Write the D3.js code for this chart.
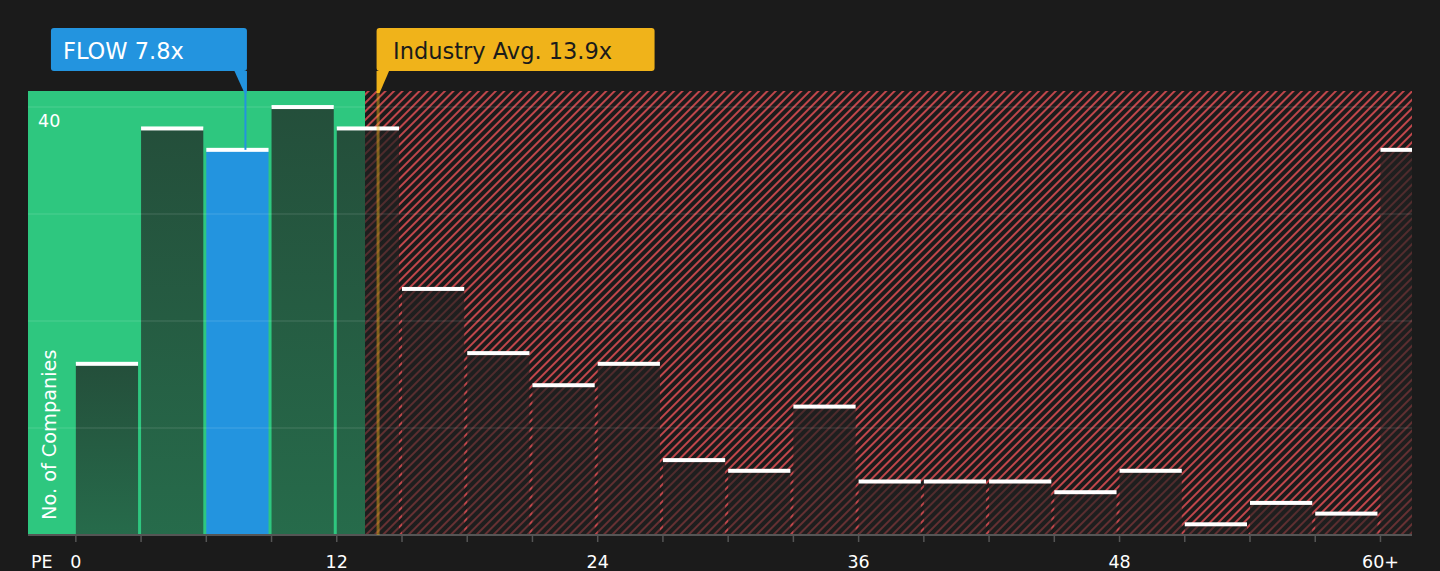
<!DOCTYPE html>
<html>
  <head>
    <script src="https://cdnjs.cloudflare.com/ajax/libs/d3/7.8.5/d3.min.js"></script>
    <style>
      html, body { margin: 0; padding: 0; background: #1b1b1b; }
      svg text { font-family: "DejaVu Sans", sans-serif; }
    </style>
  </head>
  <body>
    <div id="vis"></div>
    <script type="text/javascript">

        // PE histogram, bins of 3x
        const binStarts = [0, 3, 6, 9, 12, 15, 18, 21, 24, 27, 30, 33, 36, 39, 42, 45, 48, 51, 54, 57, 60];
        const counts    = [16, 38, 36, 40, 38, 23, 17, 14, 16, 7, 6, 12, 5, 5, 5, 4, 6, 1, 3, 2, 36];
        const tickValues = [0, 12, 24, 36, 48, 60];
        const tickLabels = ["0", "12", "24", "36", "48", "60+"];
        const gridValues = [10, 20, 30, 40];

        const companyPE = 7.8;
        const industryPE = 13.9;
        const fairLimit = 13.3;   // end of the green zone
        const binWidth = 3;

        const width = 1440, height = 571;
        const plot = {left: 28, right: 1412, top: 91, bottom: 535};

        const svg = d3.select("#vis")
            .append("svg")
            .attr("width", width)
            .attr("height", height)
            .style("display", "block");

        const x = d3.scaleLinear().domain([-2.2, 61.45]).range([plot.left, plot.right]);
        const y = d3.scaleLinear().domain([0, 41.5]).range([plot.bottom, plot.top]);

        const defs = svg.append("defs");

        defs.append("clipPath").attr("id", "plotClip")
            .append("rect")
            .attr("x", plot.left).attr("y", plot.top - 10)
            .attr("width", plot.right - plot.left)
            .attr("height", plot.bottom - plot.top + 10);

        const hatch = defs.append("pattern")
            .attr("id", "hatch")
            .attr("patternUnits", "userSpaceOnUse")
            .attr("width", 6).attr("height", 6)
            .attr("patternTransform", "rotate(45)");
        hatch.append("rect").attr("width", 6).attr("height", 6).attr("fill", "#1b1b1b");
        hatch.append("line")
            .attr("x1", 1).attr("y1", 0).attr("x2", 1).attr("y2", 6)
            .attr("stroke", "#d24b50").attr("stroke-width", 1.8);

        const barGrad = defs.append("linearGradient")
            .attr("id", "barGrad")
            .attr("x1", 0).attr("y1", 0).attr("x2", 0).attr("y2", 1);
        barGrad.append("stop").attr("offset", "0%").attr("stop-color", "#202020").attr("stop-opacity", 0.72);
        barGrad.append("stop").attr("offset", "100%").attr("stop-color", "#202020").attr("stop-opacity", 0.55);

        // background zones
        svg.append("rect")
            .attr("x", plot.left).attr("y", plot.top)
            .attr("width", x(fairLimit) - plot.left)
            .attr("height", plot.bottom - plot.top)
            .attr("fill", "#2ec77f");
        svg.append("rect")
            .attr("x", x(fairLimit)).attr("y", plot.top)
            .attr("width", plot.right - x(fairLimit))
            .attr("height", plot.bottom - plot.top)
            .attr("fill", "url(#hatch)");

        // bars
        const bins = binStarts.map((s, i) => ({start: s, count: counts[i]}));
        const isCompany = d => companyPE >= d.start && companyPE < d.start + binWidth;

        const barG = svg.append("g").attr("clip-path", "url(#plotClip)");
        barG.selectAll("rect.bar")
            .data(bins)
            .join("rect")
            .attr("class", "bar")
            .attr("x", d => x(d.start))
            .attr("y", d => y(d.count))
            .attr("width", d => x(d.start + binWidth) - x(d.start) - 3)
            .attr("height", d => y(0) - y(d.count))
            .attr("fill", d => isCompany(d) ? "#2394df" : "url(#barGrad)");

        barG.selectAll("rect.cap")
            .data(bins)
            .join("rect")
            .attr("class", "cap")
            .attr("x", d => x(d.start))
            .attr("y", d => y(d.count) - 2)
            .attr("width", d => x(d.start + binWidth) - x(d.start) - 3)
            .attr("height", 4)
            .attr("fill", "#ffffff");

        // grid lines
        svg.append("g")
            .selectAll("line")
            .data(gridValues)
            .join("line")
            .attr("x1", plot.left).attr("x2", plot.right)
            .attr("y1", d => y(d)).attr("y2", d => y(d))
            .attr("stroke", "#ffffff")
            .attr("stroke-opacity", 0.1)
            .attr("stroke-width", 1.5);

        svg.append("text")
            .attr("x", 38).attr("y", y(40) + 20)
            .attr("fill", "#ffffff")
            .attr("font-size", 17.5)
            .text("40");

        svg.append("text")
            .attr("transform", `translate(56, ${plot.bottom - 15}) rotate(-90)`)
            .attr("fill", "#ffffff")
            .attr("font-size", 19.3)
            .text("No. of Companies");

        // x axis
        const xAxis = svg.append("g");
        xAxis.append("line")
            .attr("x1", plot.left).attr("x2", plot.right)
            .attr("y1", plot.bottom).attr("y2", plot.bottom)
            .attr("stroke", "#555555").attr("stroke-width", 2);
        xAxis.selectAll("line.tick")
            .data(binStarts)
            .join("line")
            .attr("class", "tick")
            .attr("x1", d => x(d)).attr("x2", d => x(d))
            .attr("y1", plot.bottom).attr("y2", plot.bottom + 7)
            .attr("stroke", "#555555").attr("stroke-width", 1.5);
        xAxis.selectAll("text.tl")
            .data(tickValues)
            .join("text")
            .attr("class", "tl")
            .attr("x", d => x(d))
            .attr("y", 568)
            .attr("text-anchor", "middle")
            .attr("fill", "#ffffff")
            .attr("font-size", 17.5)
            .text((d, i) => tickLabels[i]);
        xAxis.append("text")
            .attr("x", 31).attr("y", 568)
            .attr("fill", "#ffffff")
            .attr("font-size", 17.5)
            .text("PE");

        // industry average marker
        const xi = x(industryPE);
        svg.append("line")
            .attr("x1", xi).attr("x2", xi)
            .attr("y1", plot.top).attr("y2", plot.bottom)
            .attr("stroke", "#f0b31a").attr("stroke-opacity", 0.45)
            .attr("stroke-width", 3);
        svg.append("path")
            .attr("d", `M${xi - 1.5},71 L${xi + 11},71 L${xi + 1.5},93 L${xi - 1.5},93 Z`)
            .attr("fill", "#f0b31a");
        svg.append("rect")
            .attr("x", xi - 1.5).attr("y", 28)
            .attr("width", 278).attr("height", 43)
            .attr("rx", 3)
            .attr("fill", "#f0b31a");
        svg.append("text")
            .attr("x", xi + 15).attr("y", 58.5)
            .attr("fill", "#1b1b1b")
            .attr("font-size", 22.5)
            .text(`Industry Avg. ${industryPE}x`);

        // company marker
        const xc = x(companyPE);
        const companyBin = bins.find(isCompany);
        svg.append("line")
            .attr("x1", xc).attr("x2", xc)
            .attr("y1", 71).attr("y2", y(companyBin.count))
            .attr("stroke", "#2394df").attr("stroke-width", 2);
        svg.append("path")
            .attr("d", `M${xc - 11},71 L${xc + 1.5},71 L${xc + 1.5},93 L${xc - 1},93 Z`)
            .attr("fill", "#2394df");
        svg.append("rect")
            .attr("x", xc + 1.5 - 196).attr("y", 28)
            .attr("width", 196).attr("height", 43)
            .attr("rx", 3)
            .attr("fill", "#2394df");
        svg.append("text")
            .attr("x", xc + 1.5 - 184).attr("y", 58.5)
            .attr("fill", "#ffffff")
            .attr("font-size", 22.5)
            .text(`FLOW ${companyPE}x`);

    </script>
  </body>
</html>
